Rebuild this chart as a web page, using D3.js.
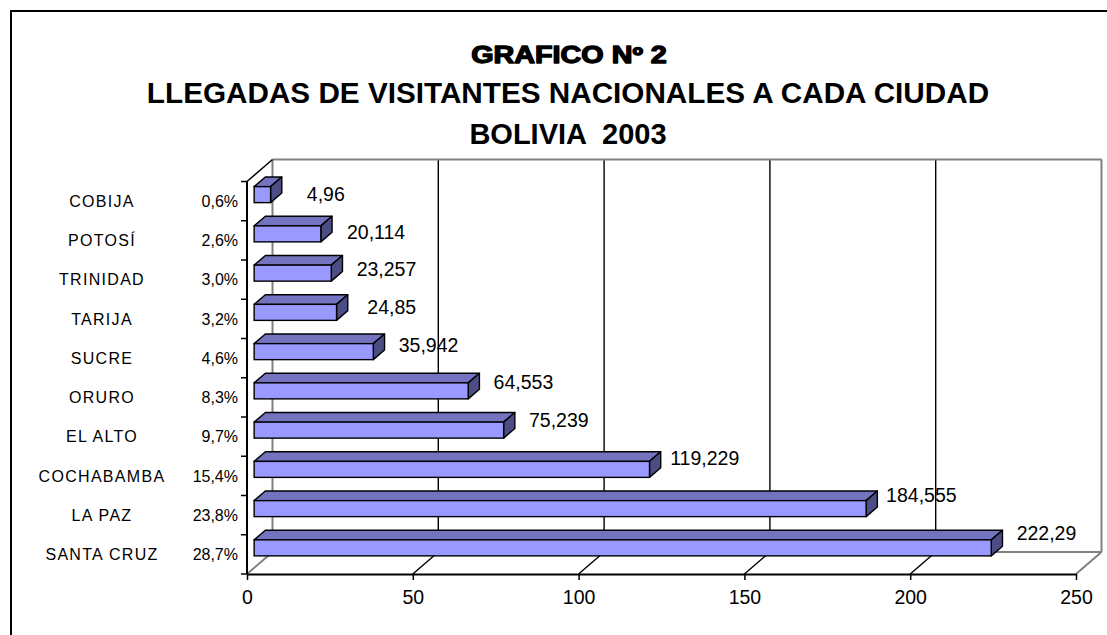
<!DOCTYPE html>
<html>
<head>
<meta charset="utf-8">
<script src="https://cdn.jsdelivr.net/npm/d3@7"></script>
<style>
  html, body { margin: 0; padding: 0; background: #fff; }
  svg { display: block; }
  text { font-family: "Liberation Sans", Arial, sans-serif; fill: #000; }
</style>
</head>
<body>
<svg id="chart" width="1107" height="635"></svg>
<script>
const titleLine1 = "GRAFICO Nº 2";
const titleLine2 = "LLEGADAS DE VISITANTES NACIONALES A CADA CIUDAD";
const titleLine3 = "BOLIVIA  2003";
const categories = ["COBIJA", "POTOSÍ", "TRINIDAD", "TARIJA", "SUCRE", "ORURO", "EL ALTO", "COCHABAMBA", "LA PAZ", "SANTA CRUZ"];
const percents = ["0,6%", "2,6%", "3,0%", "3,2%", "4,6%", "8,3%", "9,7%", "15,4%", "23,8%", "28,7%"];
const values = [4.96, 20.114, 23.257, 24.85, 35.942, 64.553, 75.239, 119.229, 184.555, 222.29];
const xTicks = [0, 50, 100, 150, 200, 250];

const svg = d3.select("#chart");

// outer frame
svg.append("rect").attr("x", 11).attr("y", 11).attr("width", 1120).attr("height", 700)
  .attr("fill", "none").attr("stroke", "#000").attr("stroke-width", 2);

// titles
svg.append("text").text(titleLine1)
  .attr("transform", "translate(569,63) scale(1.25,1)")
  .attr("text-anchor", "middle").attr("font-size", 23).attr("font-weight", "bold")
  .attr("stroke", "#000").attr("stroke-width", 1.3).attr("stroke-linejoin", "round");
svg.append("text").text(titleLine2).attr("x", 568).attr("y", 103)
  .attr("text-anchor", "middle").attr("font-size", 29.7).attr("font-weight", "bold");
svg.append("text").text(titleLine3).attr("x", 568).attr("y", 144)
  .attr("text-anchor", "middle").attr("font-size", 29).attr("font-weight", "bold")
  .attr("xml:space", "preserve").style("white-space", "pre");

// scales (front plane)
const x = d3.scaleLinear().domain([0, 250]).range([247, 1076]);
const y = d3.scaleBand().domain(categories).range([181.5, 574]).paddingInner(0).paddingOuter(0);
const DX = 25.5, DY = 22;          // full depth offset
const yTop = y.range()[0], yBot = y.range()[1];

const g = svg.append("g");

// back wall gridlines
xTicks.forEach(t => {
  const gray = (t === 0 || t === 250);
  g.append("line")
    .attr("x1", x(t) + DX).attr("x2", x(t) + DX)
    .attr("y1", yTop - DY).attr("y2", yBot - DY)
    .attr("stroke", gray ? "#808080" : "#000").attr("stroke-width", gray ? 2 : 1.4);
});
// back wall top edge
g.append("line").attr("x1", x(0) + DX).attr("x2", x(250) + DX)
  .attr("y1", yTop - DY).attr("y2", yTop - DY).attr("stroke", "#808080").attr("stroke-width", 2);
// floor back edge
g.append("line").attr("x1", x(0) + DX).attr("x2", x(250) + DX)
  .attr("y1", yBot - DY).attr("y2", yBot - DY).attr("stroke", "#808080").attr("stroke-width", 2);
// floor diagonals
xTicks.forEach(t => {
  const gray = (t === 0 || t === 250);
  g.append("line")
    .attr("x1", x(t)).attr("y1", yBot)
    .attr("x2", x(t) + DX).attr("y2", yBot - DY)
    .attr("stroke", gray ? "#808080" : "#000").attr("stroke-width", gray ? 2 : 1.4);
});
// left wall top diagonal
g.append("line").attr("x1", x(0)).attr("y1", yTop).attr("x2", x(0) + DX).attr("y2", yTop - DY)
  .attr("stroke", "#000").attr("stroke-width", 1.5);

// x axis (front floor edge)
const xAxis = d3.axisBottom(x).tickValues(xTicks).tickSize(6).tickSizeOuter(0).tickPadding(10)
  .tickFormat(d3.format("d"));
const gx = svg.append("g").attr("transform", `translate(0,${yBot})`).call(xAxis);
gx.select(".domain").attr("stroke", "#000").attr("stroke-width", 2);
gx.selectAll(".tick line").attr("stroke", "#000").attr("stroke-width", 1.5);
gx.selectAll(".tick text").attr("font-size", 19.5).attr("font-family", "Liberation Sans, Arial, sans-serif").attr("fill", "#000");

// y axis line and boundary ticks
svg.append("line").attr("x1", x(0)).attr("x2", x(0)).attr("y1", yTop).attr("y2", yBot)
  .attr("stroke", "#000").attr("stroke-width", 2);
const bounds = categories.map(c => y(c)).concat([yBot]);
svg.selectAll(".ytick").data(bounds).enter().append("line")
  .attr("x1", x(0) - 6).attr("x2", x(0)).attr("y1", d => d).attr("y2", d => d)
  .attr("stroke", "#000").attr("stroke-width", 1.5);

// bars
const f0 = 0.28, f1 = 0.72;
const faceH = 16;
const bx0 = f0 * DX, bdx = (f1 - f0) * DX, bdy = (f1 - f0) * DY;
const bars = svg.append("g");
categories.forEach((c, i) => {
  const v = values[i];
  const cy = y(c) + y.bandwidth() / 2 - 6.5;
  const xl = x(0) + bx0, xr = x(v) + bx0;
  const yt = cy - faceH / 2, yb = cy + faceH / 2;
  bars.append("path")
    .attr("d", `M${xl},${yt} L${xl + bdx},${yt - bdy} L${xr + bdx},${yt - bdy} L${xr},${yt} Z`)
    .attr("fill", "#7373BF").attr("stroke", "#000").attr("stroke-width", 1.4).attr("stroke-linejoin", "round");
  bars.append("path")
    .attr("d", `M${xr},${yt} L${xr + bdx},${yt - bdy} L${xr + bdx},${yb - bdy} L${xr},${yb} Z`)
    .attr("fill", "#4D4D86").attr("stroke", "#000").attr("stroke-width", 1.4).attr("stroke-linejoin", "round");
  bars.append("rect").attr("x", xl).attr("y", yt).attr("width", xr - xl).attr("height", faceH)
    .attr("fill", "#9999FF").attr("stroke", "#000").attr("stroke-width", 1.4);
});

// value labels
const fmt = v => String(v).replace(".", ",");
svg.selectAll(".vlabel").data(values).enter().append("text")
  .attr("x", (d) => x(d) + bx0 + bdx + 44)
  .attr("y", (d, i) => y(categories[i]) + y.bandwidth() / 2 - 7 - 1.6 * i)
  .attr("dy", "0.36em")
  .attr("text-anchor", "middle").attr("font-size", 19.5)
  .text(d => fmt(d));

// category labels
svg.selectAll(".clabel").data(categories).enter().append("text")
  .attr("x", 102).attr("y", d => y(d) + y.bandwidth() / 2).attr("dy", "0.36em")
  .attr("text-anchor", "middle").attr("font-size", 16).attr("letter-spacing", 1.3)
  .text(d => d);
svg.selectAll(".plabel").data(percents).enter().append("text")
  .attr("x", 238).attr("y", (d, i) => y(categories[i]) + y.bandwidth() / 2).attr("dy", "0.36em")
  .attr("text-anchor", "end").attr("font-size", 16)
  .text(d => d);
</script>
</body>
</html>
